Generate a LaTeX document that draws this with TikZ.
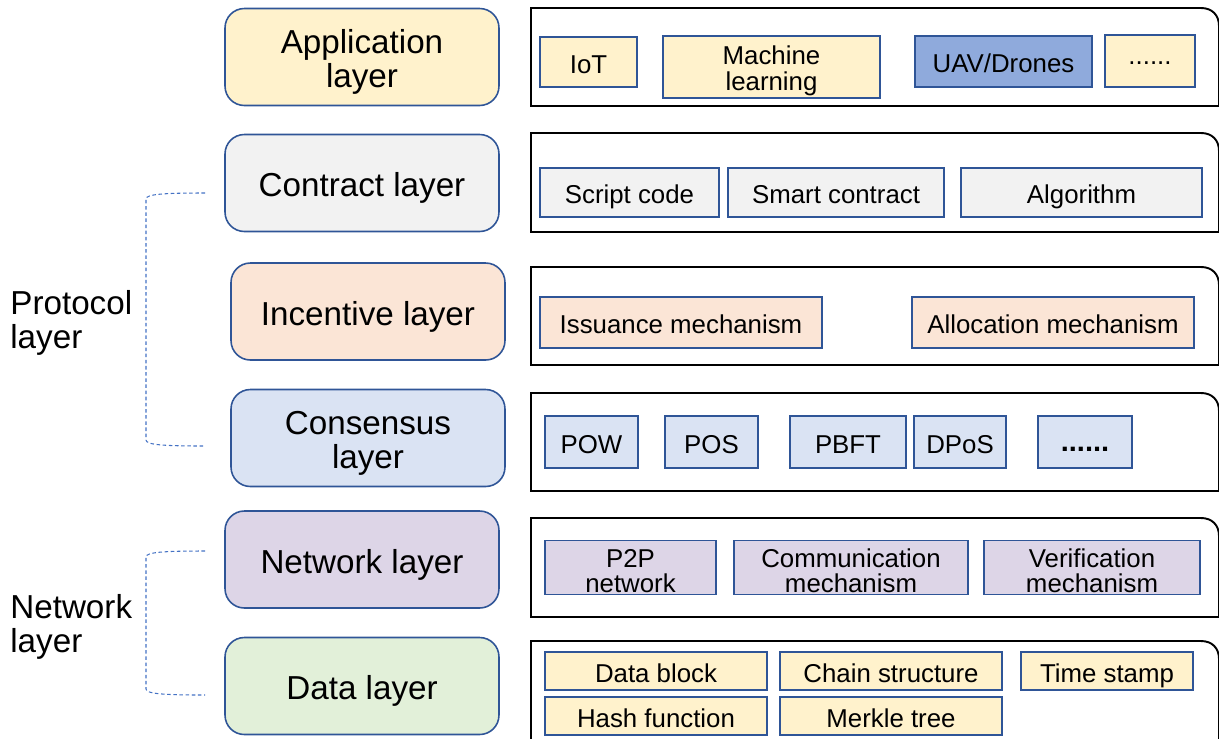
\documentclass[tikz,border=0pt]{standalone}
\usepackage{fontspec}
\setmainfont{Liberation Sans}
\usetikzlibrary{positioning}

\definecolor{edgeblue}{HTML}{2F5597}
\definecolor{dashblue}{HTML}{4472C4}
\definecolor{appfill}{HTML}{FFF2CC}
\definecolor{ctrfill}{HTML}{F2F2F2}
\definecolor{incfill}{HTML}{FBE5D6}
\definecolor{cnsfill}{HTML}{DAE3F3}
\definecolor{netfill}{HTML}{DDD5E7}
\definecolor{datfill}{HTML}{E2F0D9}
\definecolor{uavfill}{HTML}{8FAADC}
\newcommand{\toprule}[1]{\rule{0pt}{#1}}

\begin{document}
\begin{tikzpicture}[x=0.02cm, y=-0.02cm,
  lay/.style={draw=edgeblue, line width=0.9pt, rounded corners=11pt, align=center, minimum width=5.48cm, minimum height=1.94cm, font=\fontsize{18.9}{19}\selectfont, text height=15.5pt, text depth=0pt},
  lay2/.style={draw=edgeblue, line width=0.9pt, rounded corners=11pt, align=center, minimum width=5.48cm, minimum height=1.94cm, font=\fontsize{18.9}{19}\selectfont},
  it/.style={draw=edgeblue, line width=0.7pt, align=center, inner sep=1pt, font=\fontsize{14.7}{14.5}\selectfont, text height=12.9pt, text depth=0pt},
  it2/.style={draw=edgeblue, line width=0.7pt, align=center, inner sep=1pt, font=\fontsize{14.7}{14.5}\selectfont},
  lbl/.style={anchor=west, align=left, inner sep=0pt, font=\fontsize{18.9}{19.3}\selectfont},
  pnl/.style={draw=black, line width=1.1pt},
  brk/.style={draw=dashblue, line width=0.6pt, dash pattern=on 2pt off 1.5pt}
]
\useasboundingbox (0,0) rectangle (1219,738);
% right-hand panels (one per layer)
\foreach \a/\b in {8/106,133/232,267/365,393/491,518/617,641/760}
  \draw[pnl] (531,\b) -- (531,\a) -- (1201,\a) .. controls (1212,\a) and (1219,{\a+7}) .. (1219,{\a+18}) -- (1219,\b) -- cycle;
% layers (left column)
\node[lay2, fill=appfill] (app) at (362,57) {\toprule{19.4pt}Application\\layer};
\node[lay, fill=ctrfill] (ctr) at (362,183) {Contract layer};
\node[lay, fill=incfill] (inc) at (368,311.5) {Incentive layer};
\node[lay2, fill=cnsfill] (cns) at (368,438) {\toprule{19.4pt}Consensus\\layer};
\node[lay, fill=netfill] (net) at (362,559.5) {Network layer};
\node[lay, fill=datfill] (dat) at (362,686) {Data layer};
% application items
\node[it, fill=appfill, minimum width=1.94cm, minimum height=1.0cm] (iot) at (588.5,62) {IoT};
\node[it2, fill=appfill, minimum width=4.34cm, minimum height=1.24cm] (ml) at (771.5,67) {\toprule{14.9pt}Machine\\learning};
\node[it, fill=uavfill, minimum width=3.54cm, minimum height=1.02cm] (uav) at (1003.5,61.5) {UAV/Drones};
\node[it, fill=appfill, minimum width=1.8cm, minimum height=1.04cm] (appmore) at (1150,61) {\raisebox{4.5pt}{......}};
% contract items
\node[it, fill=ctrfill, minimum width=3.58cm, minimum height=0.98cm] (scr) at (629.5,192.5) {Script code};
\node[it, fill=ctrfill, minimum width=4.32cm, minimum height=0.98cm] (smc) at (836,192.5) {Smart contract};
\node[it, fill=ctrfill, minimum width=4.82cm, minimum height=0.98cm] (alg) at (1081.5,192.5) {Algorithm};
% incentive items
\node[it, fill=incfill, minimum width=5.64cm, minimum height=1.02cm] (iss) at (681,322.5) {Issuance mechanism};
\node[it, fill=incfill, minimum width=5.64cm, minimum height=1.02cm] (alc) at (1053,322.5) {Allocation mechanism};
% consensus items
\node[it, fill=cnsfill, minimum width=1.86cm, minimum height=1.04cm] (pow) at (591.5,442) {POW};
\node[it, fill=cnsfill, minimum width=1.86cm, minimum height=1.04cm] (pos) at (711.5,442) {POS};
\node[it, fill=cnsfill, minimum width=2.32cm, minimum height=1.04cm] (pbft) at (848,442) {PBFT};
\node[it, fill=cnsfill, minimum width=1.84cm, minimum height=1.04cm] (dpos) at (960,442) {DPoS};
\node[it, fill=cnsfill, minimum width=1.88cm, minimum height=1.04cm] (cnsmore) at (1085,442) {\raisebox{1.2pt}{\fontsize{16.5}{16}\selectfont\textbf{......}}};
% network items
\node[it2, fill=netfill, minimum width=3.42cm, minimum height=1.06cm] (p2p) at (630.5,567.5) {\toprule{14.3pt}P2P\\network};
\node[it2, fill=netfill, minimum width=4.68cm, minimum height=1.06cm] (com) at (851,567.5) {\toprule{14.3pt}Communication\\mechanism};
\node[it2, fill=netfill, minimum width=4.32cm, minimum height=1.06cm] (ver) at (1092,567.5) {\toprule{14.3pt}Verification\\mechanism};
% data items
\node[it, fill=appfill, minimum width=4.44cm, minimum height=0.76cm] (blk) at (656,671) {Data block};
\node[it, fill=appfill, minimum width=4.44cm, minimum height=0.76cm] (chn) at (891,671) {Chain structure};
\node[it, fill=appfill, minimum width=3.44cm, minimum height=0.76cm] (tms) at (1107,671) {Time stamp};
\node[it, fill=appfill, minimum width=4.44cm, minimum height=0.76cm] (hsh) at (656,716) {Hash function};
\node[it, fill=appfill, minimum width=4.44cm, minimum height=0.76cm] (mkl) at (891,716) {Merkle tree};
% groupings on the left
\node[lbl] (prot) at (10,323) {Protocol\\layer};
\node[lbl] (netw) at (10,627) {Network\\layer};
\coordinate (pa) at (205,193);
\coordinate (pb) at (205,446);
\coordinate (na) at (205,551);
\coordinate (nb) at (205,695);
\draw[brk] (pa) .. controls (165,193) and (146,194) .. (146,199) -- (146,440) .. controls (146,445) and (165,446) .. (pb);
\draw[brk] (na) .. controls (165,551) and (146,552) .. (146,557) -- (146,689) .. controls (146,694) and (165,695) .. (nb);
\end{tikzpicture}
\end{document}
